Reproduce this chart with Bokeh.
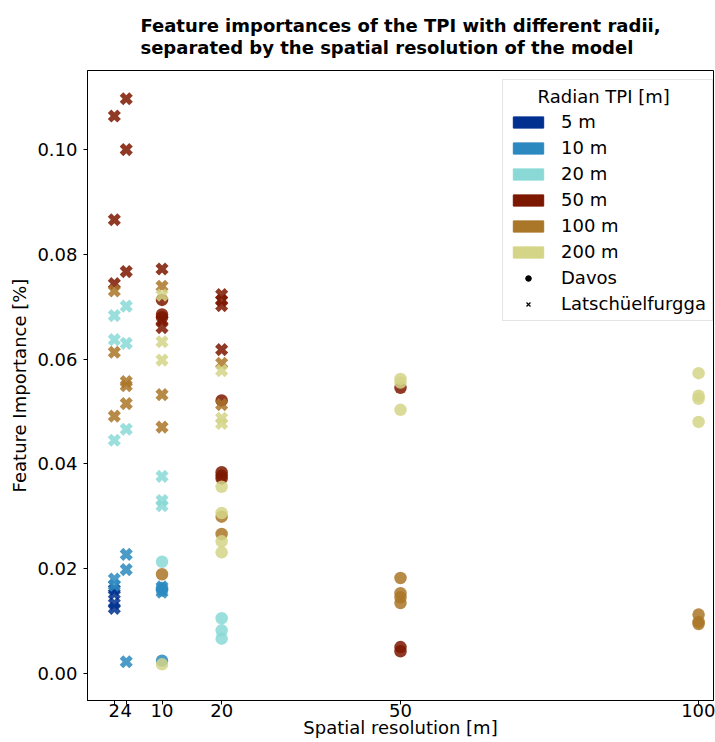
import numpy as np
from bokeh.plotting import figure
from bokeh.models import (Legend, LegendItem, FixedTicker,
                          NumeralTickFormatter, Range1d)
from bokeh.embed import file_html
from bokeh.resources import INLINE

# ---- data ----
radii = [5, 10, 20, 50, 100, 200]
radius_labels = ["5 m", "10 m", "20 m", "50 m", "100 m", "200 m"]
radius_colors = ["#00308F", "#2C89C0", "#8AD9D6", "#7C1700", "#AA7628", "#D4D587"]
x_ticks = [2, 4, 10, 20, 50, 100]
y_ticks = [0.00, 0.02, 0.04, 0.06, 0.08, 0.10]

# Latschüelfurgga (crosses)
latsch_resolution = [2, 2, 2, 2, 2, 2, 2, 2, 2, 2, 2, 2, 2, 2, 2,
                     4, 4, 4, 4, 4, 4, 4, 4, 4, 4, 4, 4,
                     10, 10, 10, 10, 10, 10, 10, 10, 10, 10, 10, 10, 10, 10,
                     20, 20, 20, 20, 20, 20, 20, 20, 20]
latsch_radius = [5, 5, 5, 5, 10, 10, 20, 20, 20, 50, 50, 50, 100, 100, 100,
                 10, 10, 10, 20, 20, 20, 50, 50, 50, 100, 100, 100,
                 10, 10, 20, 20, 20, 50, 50, 50, 100, 100, 100, 200, 200, 200,
                 50, 50, 50, 50, 100, 100, 200, 200, 200]
latsch_importance = [0.0160, 0.0152, 0.0133, 0.0124, 0.0180, 0.0168,
                     0.0683, 0.0637, 0.0445, 0.1064, 0.0866, 0.0744,
                     0.0730, 0.0613, 0.0491,
                     0.0227, 0.0198, 0.0022, 0.0701, 0.0630, 0.0466,
                     0.1097, 0.1000, 0.0767, 0.0557, 0.0549, 0.0515,
                     0.0165, 0.0155, 0.0376, 0.0330, 0.0320,
                     0.0772, 0.0674, 0.0660, 0.0739, 0.0532, 0.0470,
                     0.0722, 0.0633, 0.0598,
                     0.0723, 0.0712, 0.0702, 0.0618, 0.0592, 0.0513,
                     0.0578, 0.0487, 0.0477]

# Davos (circles)
davos_resolution = [10, 10, 10, 10, 10, 10, 10, 10, 10,
                    20, 20, 20, 20, 20, 20, 20, 20, 20, 20, 20, 20, 20,
                    50, 50, 50, 50, 50, 50, 50, 50, 50, 50,
                    100, 100, 100, 100, 100, 100, 100]
davos_radius = [10, 10, 10, 20, 50, 50, 50, 100, 200,
                20, 20, 20, 50, 50, 50, 50, 100, 100, 200, 200, 200, 200,
                50, 50, 50, 100, 100, 100, 100, 200, 200, 200,
                100, 100, 100, 200, 200, 200, 200]
davos_importance = [0.0163, 0.0158, 0.0024, 0.0213, 0.0713, 0.0685, 0.0680, 0.0189, 0.0017,
                    0.0105, 0.0082, 0.0066, 0.0521, 0.0384, 0.0377, 0.0372,
                    0.0299, 0.0266, 0.0356, 0.0306, 0.0252, 0.0231,
                    0.0545, 0.0050, 0.0042, 0.0182, 0.0153, 0.0145, 0.0134,
                    0.0562, 0.0555, 0.0503,
                    0.0112, 0.0098, 0.0094, 0.0573, 0.0530, 0.0524, 0.0480]

FONT = "DejaVu Sans"
FS = "18px"

p = figure(width=715, height=742, output_backend="svg", toolbar_location=None,
           x_range=Range1d(-2.5, 102.5), y_range=Range1d(-0.0052, 0.1151),
           min_border_left=87, min_border_right=2, min_border_top=70, min_border_bottom=42)

p.title.text = ("Feature importances of the TPI with different radii,\n"
                "separated by the spatial resolution of the model")
p.title.align = "center"
p.title.text_font = FONT
p.title.text_font_size = "18px"
p.title.text_font_style = "bold"
p.title.text_color = "black"
p.title.text_line_height = 1.05
p.title.standoff = 25

p.xgrid.visible = False
p.ygrid.visible = False
p.outline_line_color = "black"
p.outline_line_alpha = 1

for ax in (p.xaxis, p.yaxis):
    ax.axis_line_color = "black"
    ax.major_tick_line_color = "black"
    ax.minor_tick_line_color = None
    ax.major_tick_in = 0
    ax.major_tick_out = 4
    ax.major_label_text_font = FONT
    ax.major_label_text_font_size = FS
    ax.major_label_text_color = "black"
    ax.axis_label_text_font = FONT
    ax.axis_label_text_font_size = FS
    ax.axis_label_text_font_style = "normal"
    ax.axis_label_text_color = "black"

p.xaxis.ticker = FixedTicker(ticks=x_ticks)
p.xaxis.axis_label = "Spatial resolution [m]"
p.xaxis.major_label_standoff = -1
p.xaxis.axis_label_standoff = -3
p.yaxis.ticker = FixedTicker(ticks=y_ticks)
p.yaxis.formatter = NumeralTickFormatter(format="0.00")
p.yaxis.axis_label = "Feature Importance [%]"
p.yaxis.major_label_standoff = 6
p.yaxis.axis_label_standoff = 4

# data marks, radius by radius
for rad, col in zip(radii, radius_colors):
    lx = [r for r, k in zip(latsch_resolution, latsch_radius) if k == rad]
    ly = [v for v, k in zip(latsch_importance, latsch_radius) if k == rad]
    if lx:
        p.scatter(lx, ly, marker="plus", angle=np.pi / 4, size=13.5,
                  fill_color=col, fill_alpha=0.85, line_color=None)
    dx = [r for r, k in zip(davos_resolution, davos_radius) if k == rad]
    dy = [v for v, k in zip(davos_importance, davos_radius) if k == rad]
    if dx:
        p.scatter(dx, dy, marker="circle", size=12.5,
                  fill_color=col, fill_alpha=0.85, line_color=None)

# legend proxies (not drawn in the plot: NaN positions)
items = []
for lab, col in zip(radius_labels, radius_colors):
    r = p.rect(x=[np.nan], y=[np.nan], width=1, height=1, fill_color=col, line_color=col)
    items.append(LegendItem(label=lab, renderers=[r]))
rd = p.scatter(x=[np.nan], y=[np.nan], marker="circle", fill_color="black", line_color="black")
items.append(LegendItem(label="Davos", renderers=[rd]))
rl = p.scatter(x=[np.nan], y=[np.nan], marker="x", line_color="black", line_width=1.2)
items.append(LegendItem(label="Latschüelfurgga", renderers=[rl]))

legend = Legend(items=items, location=(415, 379))
legend.title = "\u00a0" * 5 + "Radian TPI [m]"
legend.title_text_font = FONT
legend.title_text_font_size = FS
legend.title_text_font_style = "normal"
legend.title_text_color = "black"
legend.title_standoff = 4
legend.label_text_font = FONT
legend.label_text_font_size = FS
legend.label_text_color = "black"
legend.glyph_width = 38
legend.glyph_height = 14
legend.label_standoff = 14
legend.label_height = 20
legend.spacing = 5
legend.padding = 6
legend.margin = 0
legend.border_line_color = "#cccccc"
legend.border_line_width = 1
legend.background_fill_alpha = 0.8
p.add_layout(legend)

open("out.html", "w").write(file_html(p, INLINE))
